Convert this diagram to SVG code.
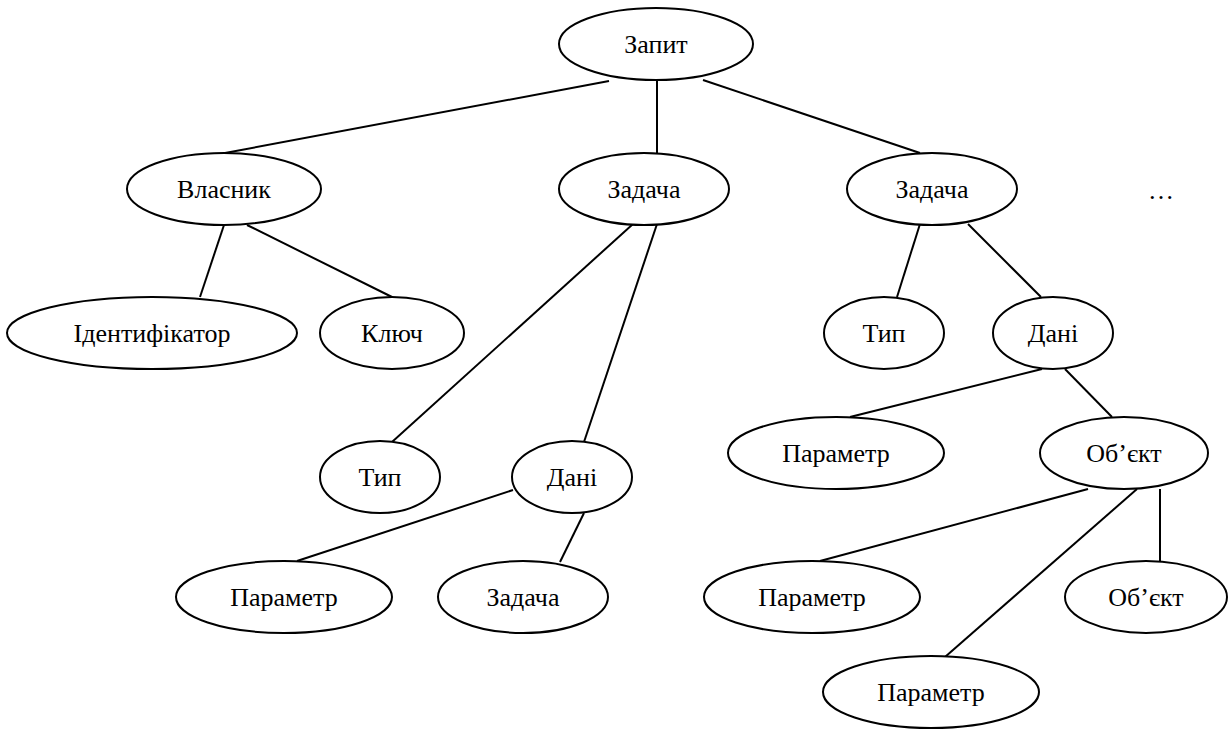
<svg xmlns="http://www.w3.org/2000/svg" width="1230" height="729" viewBox="0 0 1230 729">
<style>
ellipse{fill:#fff;stroke:#000;stroke-width:2}
line{stroke:#000;stroke-width:2}
text{font-family:"Liberation Serif","Times New Roman",serif;font-size:26px;fill:#000;text-anchor:middle}
</style>
<rect width="1230" height="729" fill="#fff"/>
<g id="connectors">
<line x1="609" y1="81" x2="225" y2="153"/>
<line x1="657" y1="81" x2="657" y2="153"/>
<line x1="703" y1="80" x2="920" y2="153"/>
<line x1="224" y1="225" x2="200" y2="297"/>
<line x1="247" y1="225" x2="392" y2="297"/>
<line x1="633" y1="224" x2="392" y2="442"/>
<line x1="657" y1="224" x2="584" y2="442"/>
<line x1="920" y1="224" x2="897" y2="297"/>
<line x1="968" y1="224" x2="1041" y2="297"/>
<line x1="1042" y1="369" x2="850" y2="417"/>
<line x1="1065" y1="369" x2="1112" y2="417"/>
<line x1="513" y1="490" x2="297" y2="561"/>
<line x1="584" y1="513" x2="560" y2="562"/>
<line x1="1088" y1="489" x2="820" y2="561"/>
<line x1="1137" y1="489" x2="945" y2="657"/>
<line x1="1160" y1="489" x2="1160" y2="563"/>
</g>
<g id="n-zapyt"><ellipse cx="656" cy="44" rx="97" ry="36"/><text x="656" y="53">Запит</text></g>
<g id="n-vlasnyk"><ellipse cx="224" cy="189" rx="97" ry="36"/><text x="224" y="198">Власник</text></g>
<g id="n-zadacha1"><ellipse cx="644" cy="189" rx="85" ry="36"/><text x="644" y="198">Задача</text></g>
<g id="n-zadacha2"><ellipse cx="932" cy="189" rx="85" ry="36"/><text x="932" y="198">Задача</text></g>
<g id="n-dots"><text x="1161" y="199">…</text></g>
<g id="n-ident"><ellipse cx="152" cy="333" rx="145" ry="36"/><text x="152" y="342">Ідентифікатор</text></g>
<g id="n-kliuch"><ellipse cx="392" cy="333" rx="72" ry="36"/><text x="392" y="342">Ключ</text></g>
<g id="n-typ2"><ellipse cx="884" cy="333" rx="60" ry="36"/><text x="884" y="342">Тип</text></g>
<g id="n-dani2"><ellipse cx="1053" cy="333" rx="60" ry="36"/><text x="1053" y="342">Дані</text></g>
<g id="n-param2"><ellipse cx="836" cy="453" rx="108" ry="36"/><text x="836" y="462">Параметр</text></g>
<g id="n-obiekt1"><ellipse cx="1124" cy="453" rx="84" ry="36"/><text x="1124" y="462">Об’єкт</text></g>
<g id="n-typ1"><ellipse cx="380" cy="477" rx="60" ry="36"/><text x="380" y="486">Тип</text></g>
<g id="n-dani1"><ellipse cx="572" cy="477" rx="60" ry="36"/><text x="572" y="486">Дані</text></g>
<g id="n-param1"><ellipse cx="284" cy="597" rx="108" ry="36"/><text x="284" y="606">Параметр</text></g>
<g id="n-zadacha3"><ellipse cx="523" cy="597" rx="85" ry="36"/><text x="523" y="606">Задача</text></g>
<g id="n-param3"><ellipse cx="812" cy="597" rx="108" ry="36"/><text x="812" y="606">Параметр</text></g>
<g id="n-obiekt2"><ellipse cx="1146" cy="597" rx="81" ry="36"/><text x="1146" y="606">Об’єкт</text></g>
<g id="n-param4"><ellipse cx="931" cy="692" rx="108" ry="36"/><text x="931" y="701">Параметр</text></g>
</svg>
